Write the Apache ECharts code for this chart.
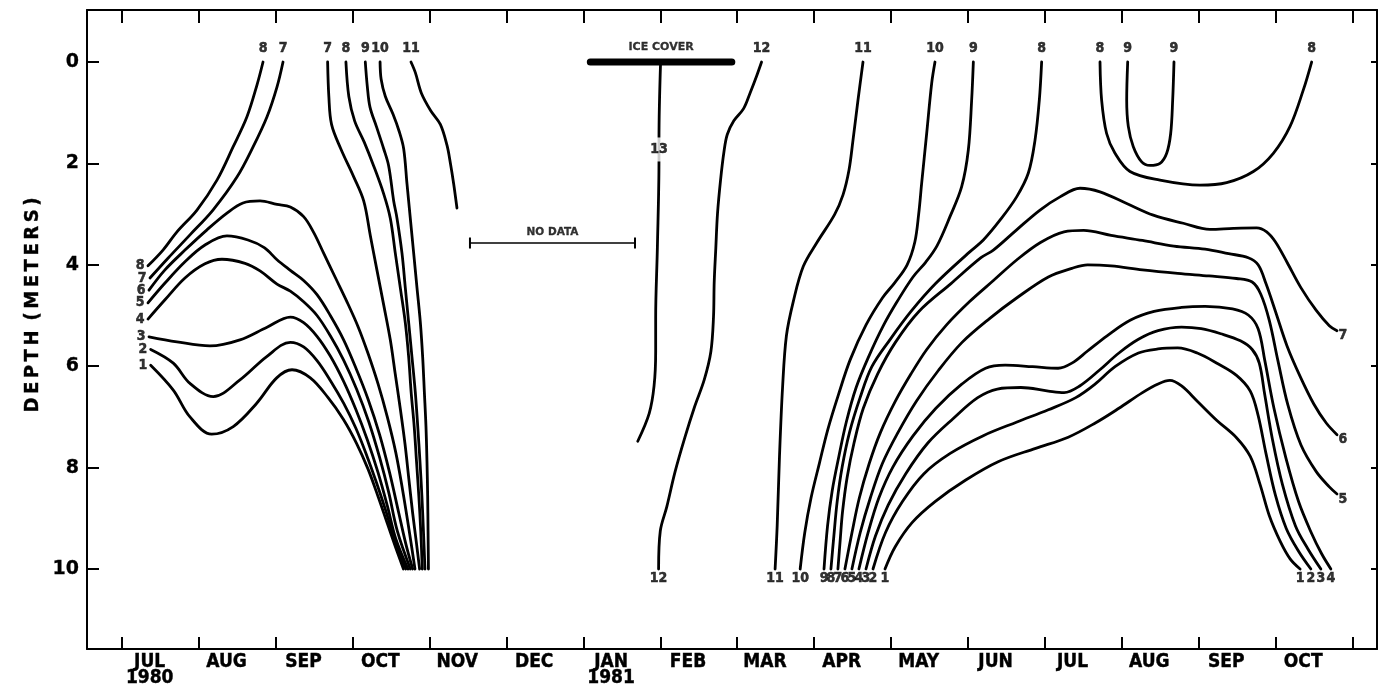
<!DOCTYPE html>
<html>
<head>
<meta charset="utf-8">
<script src="https://cdn.jsdelivr.net/npm/echarts@6/dist/echarts.min.js"></script>
<style>
  html, body { margin: 0; padding: 0; background: #fff; }
  #chart { width: 1380px; height: 688px; }
</style>
</head>
<body>
<div id="chart"></div>
<script>
// Time is counted in months from 1 July 1980 (0 = Jul 1, 1980); depth in metres.
const monthNames = ['JUL','AUG','SEP','OCT','NOV','DEC','JAN','FEB','MAR','APR','MAY','JUN','JUL','AUG','SEP','OCT'];
const yearStarts = { 0: '1980', 6: '1981' };
const monthBoundaries = [0,1,2,3,4,5,6,7,8,9,10,11,12,13,14,15,16];
const depthTicks = [0,2,4,6,8,10];

// ---- Isotherms, summer 1980 ----
const summer80_8 = [[0.338,4.02],[0.533,3.71],[0.715,3.35],[0.975,2.92],[1.235,2.33],[1.443,1.68],[1.625,1.08],[1.756,0.45],[1.834,0]];
const summer80_7 = [[0.364,4.26],[0.598,3.87],[0.884,3.41],[1.183,2.92],[1.495,2.27],[1.703,1.68],[1.886,1.08],[2.016,0.49],[2.094,0]];
const summer80_6 = [[0.351,4.50],[0.559,4.10],[0.819,3.71],[1.105,3.31],[1.365,2.98],[1.573,2.78],[1.795,2.74],[2.016,2.81],[2.189,2.86],[2.362,3.05],[2.492,3.36],[2.622,3.77],[2.774,4.25],[2.926,4.73],[3.07,5.22],[3.20,5.75],[3.33,6.35],[3.45,7.00],[3.56,7.70],[3.65,8.45],[3.73,9.20],[3.81,10.0]];
const summer80_5 = [[0.338,4.75],[0.559,4.36],[0.819,3.94],[1.079,3.61],[1.365,3.43],[1.638,3.51],[1.85,3.66],[2.016,3.90],[2.189,4.11],[2.362,4.31],[2.536,4.59],[2.709,5.00],[2.882,5.48],[3.04,6.03],[3.20,6.65],[3.35,7.35],[3.48,8.10],[3.60,8.90],[3.69,9.50],[3.78,10.0]];
const summer80_4 = [[0.338,5.07],[0.559,4.69],[0.819,4.26],[1.079,3.98],[1.300,3.89],[1.600,3.97],[1.795,4.12],[2.016,4.38],[2.189,4.52],[2.362,4.73],[2.536,5.00],[2.709,5.40],[2.882,5.88],[3.05,6.45],[3.21,7.10],[3.35,7.80],[3.47,8.50],[3.58,9.25],[3.75,10.0]];
const summer80_3 = [[0.351,5.42],[0.715,5.52],[1.144,5.60],[1.534,5.48],[1.886,5.23],[2.189,5.03],[2.362,5.14],[2.536,5.41],[2.709,5.80],[2.882,6.30],[3.04,6.85],[3.19,7.45],[3.33,8.10],[3.45,8.75],[3.56,9.40],[3.72,10.0]];
const summer80_2 = [[0.373,5.67],[0.667,5.94],[0.884,6.34],[1.187,6.60],[1.534,6.27],[1.882,5.81],[2.189,5.53],[2.362,5.62],[2.536,5.89],[2.709,6.28],[2.882,6.73],[3.04,7.22],[3.18,7.75],[3.31,8.30],[3.43,8.85],[3.54,9.40],[3.69,10.0]];
const summer80_1 = [[0.373,5.98],[0.667,6.47],[0.884,7.00],[1.166,7.34],[1.447,7.19],[1.752,6.73],[2.012,6.23],[2.211,6.07],[2.449,6.23],[2.68,6.62],[2.88,7.05],[3.05,7.52],[3.20,8.03],[3.33,8.57],[3.45,9.10],[3.56,9.58],[3.66,10.0]];

// ---- Autumn 1980 cooling ----
const fall80_7 = [[2.674,0],[2.69,0.68],[2.725,1.23],[2.845,1.71],[3.012,2.26],[3.143,2.74],[3.229,3.42],[3.316,4.11],[3.403,4.79],[3.489,5.48],[3.554,6.16],[3.62,6.85],[3.68,7.53],[3.73,8.22],[3.78,8.90],[3.83,9.50],[3.87,10.0]];
const fall80_8 = [[2.912,0],[2.95,0.68],[3.025,1.16],[3.15,1.58],[3.273,2.05],[3.403,2.60],[3.489,3.08],[3.554,3.77],[3.619,4.45],[3.684,5.14],[3.728,5.82],[3.760,6.51],[3.800,7.19],[3.830,7.88],[3.860,8.56],[3.885,9.25],[3.905,10.0]];
const fall80_9 = [[3.164,0],[3.19,0.48],[3.225,0.89],[3.31,1.28],[3.403,1.71],[3.468,2.05],[3.533,2.74],[3.576,3.08],[3.641,3.77],[3.684,4.45],[3.728,5.14],[3.771,5.82],[3.814,6.51],[3.846,7.19],[3.875,7.88],[3.900,8.56],[3.920,9.25],[3.940,10.0]];
const fall80_10 = [[3.356,0],[3.37,0.34],[3.425,0.68],[3.525,1.03],[3.605,1.37],[3.663,1.71],[3.706,2.40],[3.749,3.08],[3.793,3.77],[3.836,4.45],[3.880,5.14],[3.910,5.82],[3.932,6.51],[3.953,7.19],[3.966,7.88],[3.975,8.56],[3.980,9.25],[3.985,10.0]];
const fall80_11 = [[3.758,0],[3.815,0.21],[3.895,0.62],[4.015,0.96],[4.140,1.23],[4.226,1.64],[4.270,1.99],[4.313,2.40],[4.356,2.88]];

// ---- Winter 1980-81 ----
const winter_13 = [[7.004,0],[6.983,1.52],[6.983,1.93],[6.962,3.67],[6.940,5.03],[6.940,5.71],[6.919,6.39],[6.856,6.93],[6.707,7.48]];
const winter_12 = [[8.317,0],[8.254,0.27],[8.168,0.61],[8.083,0.92],[7.956,1.16],[7.871,1.43],[7.828,1.77],[7.785,2.31],[7.744,2.99],[7.722,3.67],[7.701,4.35],[7.692,5.03],[7.658,5.71],[7.573,6.26],[7.446,6.80],[7.319,7.41],[7.191,8.09],[7.085,8.77],[7.000,9.25],[6.978,10.0]];
const iceCover = [6.09, 7.93];
const noDataSpan = [4.525, 6.671];
const noDataDepth = 3.57;

// ---- Spring / summer 1981 ----
const spring81_11 = [[9.636,0],[9.571,0.75],[9.506,1.54],[9.454,2.13],[9.376,2.62],[9.266,3.01],[9.037,3.56],[8.86,4.03],[8.73,4.72],[8.64,5.40],[8.59,6.42],[8.55,7.78],[8.52,9.15],[8.493,10.0]];
const spring81_10 = [[10.572,0],[10.529,0.42],[10.464,1.41],[10.399,2.39],[10.36,3.0],[10.31,3.55],[10.21,4.0],[10.05,4.35],[9.89,4.65],[9.674,5.19],[9.470,5.87],[9.317,6.56],[9.18,7.24],[9.068,7.92],[8.96,8.60],[8.879,9.28],[8.819,10.0]];
const spring81_9 = [[11.071,0],[11.049,0.75],[11.006,1.73],[10.919,2.46],[10.767,3.05],[10.60,3.62],[10.45,3.95],[10.286,4.24],[10.082,4.72],[9.904,5.19],[9.710,5.81],[9.547,6.42],[9.419,7.10],[9.322,7.78],[9.235,8.46],[9.175,9.15],[9.129,10.0]];
const spring81_8 = [[11.959,0],[11.929,0.75],[11.873,1.54],[11.786,2.19],[11.634,2.66],[11.417,3.12],[11.201,3.51],[11.02,3.75],[10.58,4.37],[10.26,4.92],[9.99,5.47],[9.751,6.01],[9.598,6.62],[9.46,7.31],[9.365,7.99],[9.30,8.67],[9.257,9.35],[9.219,10.0]];
const season81_7 = [[9.310,10.0],[9.34,9.42],[9.37,8.87],[9.43,8.19],[9.52,7.51],[9.64,6.83],[9.827,6.15],[10.057,5.53],[10.363,4.92],[10.78,4.37],[11.17,3.86],[11.331,3.71],[11.634,3.31],[11.938,2.92],[12.198,2.66],[12.458,2.49],[12.718,2.56],[13.065,2.79],[13.411,3.02],[13.801,3.18],[14.148,3.30],[14.452,3.28],[14.755,3.27],[14.885,3.35],[15.00,3.55],[15.15,3.95],[15.33,4.45],[15.53,4.90],[15.70,5.20],[15.80,5.30]];
const season81_6 = [[9.401,10.0],[9.493,9.28],[9.588,8.60],[9.717,7.92],[9.862,7.31],[10.057,6.69],[10.261,6.15],[10.465,5.67],[10.720,5.19],[11.026,4.72],[11.332,4.31],[11.638,3.90],[11.944,3.56],[12.250,3.35],[12.505,3.32],[12.862,3.42],[13.270,3.52],[13.677,3.63],[14.085,3.69],[14.391,3.78],[14.646,3.86],[14.774,4.00],[14.876,4.37],[15.00,4.92],[15.15,5.60],[15.32,6.20],[15.50,6.75],[15.66,7.12],[15.80,7.35]];
const season81_5 = [[9.492,10.0],[9.60,9.28],[9.731,8.60],[9.888,7.92],[10.09,7.31],[10.33,6.69],[10.618,6.08],[10.924,5.53],[11.281,5.06],[11.638,4.65],[12.046,4.24],[12.352,4.07],[12.556,4.00],[12.862,4.02],[13.270,4.10],[13.728,4.17],[14.136,4.22],[14.493,4.27],[14.697,4.34],[14.809,4.58],[14.92,5.10],[15.03,5.88],[15.16,6.76],[15.33,7.55],[15.53,8.08],[15.70,8.38],[15.80,8.52]];
const season81_4 = [[9.583,10.0],[9.703,9.28],[9.842,8.60],[10.024,7.99],[10.289,7.37],[10.584,6.83],[10.924,6.35],[11.230,6.04],[11.485,5.98],[11.842,6.01],[12.173,6.04],[12.352,5.94],[12.556,5.70],[12.810,5.40],[13.116,5.09],[13.422,4.92],[13.779,4.84],[14.085,4.82],[14.442,4.87],[14.646,4.99],[14.774,5.26],[14.86,5.88],[14.98,6.83],[15.13,7.78],[15.30,8.67],[15.47,9.30],[15.60,9.70],[15.72,10.0]];
const season81_3 = [[9.675,10.0],[9.798,9.35],[9.963,8.74],[10.192,8.12],[10.482,7.51],[10.81,7.03],[11.128,6.62],[11.383,6.45],[11.689,6.42],[12.046,6.49],[12.250,6.52],[12.454,6.39],[12.709,6.08],[12.964,5.74],[13.218,5.47],[13.473,5.30],[13.779,5.23],[14.034,5.26],[14.289,5.36],[14.544,5.50],[14.697,5.67],[14.789,5.94],[14.86,6.56],[14.96,7.44],[15.09,8.33],[15.26,9.15],[15.42,9.60],[15.59,10.0]];
const season81_2 = [[9.766,10.0],[9.929,9.28],[10.149,8.67],[10.429,8.12],[10.77,7.72],[11.20,7.37],[11.638,7.10],[12.046,6.86],[12.403,6.62],[12.657,6.35],[12.913,6.01],[13.218,5.74],[13.473,5.66],[13.728,5.64],[13.983,5.74],[14.238,5.94],[14.493,6.18],[14.672,6.49],[14.774,6.97],[14.876,7.72],[15.00,8.55],[15.14,9.20],[15.30,9.65],[15.46,10.0]];
const season81_1 = [[9.922,10.0],[10.055,9.56],[10.277,9.08],[10.573,8.67],[10.967,8.25],[11.40,7.88],[11.881,7.62],[12.305,7.40],[12.657,7.12],[12.964,6.83],[13.270,6.52],[13.473,6.35],[13.626,6.28],[13.779,6.39],[13.983,6.69],[14.238,7.07],[14.493,7.41],[14.672,7.78],[14.799,8.33],[14.92,8.95],[15.06,9.45],[15.19,9.80],[15.32,10.0]];
const summer81_8 = [[12.718,0],[12.739,0.75],[12.804,1.41],[12.913,1.80],[13.108,2.16],[13.498,2.33],[14.018,2.43],[14.365,2.38],[14.712,2.16],[14.972,1.80],[15.189,1.27],[15.362,0.55],[15.470,0]];
const summer81_9 = [[13.078,0],[13.065,0.75],[13.086,1.27],[13.151,1.67],[13.260,1.97],[13.368,2.04],[13.498,2.00],[13.585,1.80],[13.637,1.41],[13.663,0.75],[13.680,0]];

// Which ends of each isotherm carry its temperature tag, and on which side.
const contours = [
  { level: 8,  pts: summer80_8,  tags: [['start','left'], ['end','top']] },
  { level: 7,  pts: summer80_7,  tags: [['start','left'], ['end','top']] },
  { level: 6,  pts: summer80_6,  tags: [['start','left']] },
  { level: 5,  pts: summer80_5,  tags: [['start','left']] },
  { level: 4,  pts: summer80_4,  tags: [['start','left']] },
  { level: 3,  pts: summer80_3,  tags: [['start','left']] },
  { level: 2,  pts: summer80_2,  tags: [['start','left']] },
  { level: 1,  pts: summer80_1,  tags: [['start','left']] },
  { level: 7,  pts: fall80_7,    tags: [['start','top']] },
  { level: 8,  pts: fall80_8,    tags: [['start','top']] },
  { level: 9,  pts: fall80_9,    tags: [['start','top']] },
  { level: 10, pts: fall80_10,   tags: [['start','top']] },
  { level: 11, pts: fall80_11,   tags: [['start','top']] },
  { level: 13, pts: winter_13,   tags: [] },
  { level: 12, pts: winter_12,   tags: [['start','top'], ['end','bottom']] },
  { level: 11, pts: spring81_11, tags: [['start','top'], ['end','bottom']] },
  { level: 10, pts: spring81_10, tags: [['start','top'], ['end','bottom']] },
  { level: 9,  pts: spring81_9,  tags: [['start','top'], ['end','bottom']] },
  { level: 8,  pts: spring81_8,  tags: [['start','top'], ['end','bottom']] },
  { level: 7,  pts: season81_7,  tags: [['start','bottom'], ['end','right']] },
  { level: 6,  pts: season81_6,  tags: [['start','bottom'], ['end','right']] },
  { level: 5,  pts: season81_5,  tags: [['start','bottom'], ['end','right']] },
  { level: 4,  pts: season81_4,  tags: [['start','bottom'], ['end','bottom']] },
  { level: 3,  pts: season81_3,  tags: [['start','bottom'], ['end','bottom']] },
  { level: 2,  pts: season81_2,  tags: [['start','bottom'], ['end','bottom']] },
  { level: 1,  pts: season81_1,  tags: [['start','bottom'], ['end','bottom']] },
  { level: 8,  pts: summer81_8,  tags: [['start','top'], ['end','top']] },
  { level: 9,  pts: summer81_9,  tags: [['start','top'], ['end','top']] }
];

const INK = '#000';
const NARROW = "'DejaVu Sans Condensed','Liberation Sans Narrow','DejaVu Sans',sans-serif";
const WIDE = "'DejaVu Sans','Liberation Sans',sans-serif";
const tagDistance = { top: 6, bottom: 2, left: 3, right: 1 };
// month names sit a little left of the middle of each month
const monthLabelAt = monthBoundaries.slice(0, monthNames.length).map(b => b + 0.36);

const isothermSeries = contours.map(c => ({
  type: 'line',
  data: c.pts,
  symbol: 'none',
  showSymbol: false,
  smooth: 0.35,
  silent: true,
  z: 3,
  lineStyle: { color: INK, width: 2.8, cap: 'round', join: 'round' }
}));

// Temperature tags at the ends of the isotherms.
const tagItems = [];
contours.forEach(c => {
  c.tags.forEach(([which, side]) => {
    const p = which === 'start' ? c.pts[0] : c.pts[c.pts.length - 1];
    tagItems.push({
      value: [p[0], p[1], String(c.level)],
      label: {
        position: side,
        distance: tagDistance[side],
        offset: side === 'right' ? [0, 5] : [0, 0]
      }
    });
  });
});
// the 13 degree tag interrupts its isotherm below the ice
const t13 = [(winter_13[1][0] + winter_13[2][0]) / 2, (winter_13[1][1] + winter_13[2][1]) / 2];
tagItems.push({
  value: [t13[0], t13[1], '13'],
  label: { position: 'inside', backgroundColor: '#fff', padding: [5, 1] }
});
// annotations
tagItems.push({
  value: [(iceCover[0] + iceCover[1]) / 2, 0, 'ICE COVER'],
  label: { position: 'top', distance: 9, fontSize: 11, fontFamily: WIDE, textBorderWidth: 0.3 }
});
tagItems.push({
  value: [(noDataSpan[0] + noDataSpan[1]) / 2, noDataDepth, 'NO DATA'],
  label: { position: 'top', distance: 5, fontSize: 10.5, fontFamily: WIDE, textBorderWidth: 0.3 }
});

const option = {
  animation: false,
  backgroundColor: '#fff',
  grid: { left: 87, right: 3, top: 10, bottom: 39, containLabel: false },
  xAxis: [
    {
      type: 'value', position: 'bottom', min: -0.455, max: 16.32,
      axisLine: { show: true, onZero: false, lineStyle: { color: INK, width: 2 } },
      axisTick: { show: true, inside: true, length: 12, customValues: monthBoundaries, lineStyle: { color: INK, width: 2 } },
      axisLabel: {
        show: true, customValues: monthLabelAt, margin: 5,
        color: INK, fontSize: 19, fontWeight: 'bold', fontFamily: NARROW, lineHeight: 16,
        textBorderColor: INK, textBorderWidth: 0.4,
        formatter: v => {
          const i = Math.round(v - 0.36);
          return monthNames[i] + (yearStarts[i] ? '\n' + yearStarts[i] : '');
        }
      },
      splitLine: { show: false }
    },
    {
      type: 'value', position: 'top', min: -0.455, max: 16.32,
      axisLine: { show: true, onZero: false, lineStyle: { color: INK, width: 2 } },
      axisTick: { show: true, inside: true, length: 13, customValues: monthBoundaries, lineStyle: { color: INK, width: 2 } },
      axisLabel: { show: false },
      splitLine: { show: false }
    }
  ],
  yAxis: [
    {
      type: 'value', position: 'left', inverse: true, min: -1.026, max: 11.578,
      axisLine: { show: true, onZero: false, lineStyle: { color: INK, width: 2 } },
      axisTick: { show: true, inside: true, length: 12, customValues: depthTicks, lineStyle: { color: INK, width: 2 } },
      axisLabel: {
        show: true, customValues: depthTicks, margin: 8, color: INK, fontSize: 19, fontWeight: 'bold', fontFamily: WIDE,
        textBorderColor: INK, textBorderWidth: 0.3
      },
      splitLine: { show: false }
    },
    {
      type: 'value', position: 'right', inverse: true, min: -1.026, max: 11.578,
      axisLine: { show: true, onZero: false, lineStyle: { color: INK, width: 2 } },
      axisTick: { show: true, inside: true, length: 6, customValues: depthTicks, lineStyle: { color: INK, width: 2 } },
      axisLabel: { show: false },
      splitLine: { show: false }
    }
  ],
  graphic: [
    {
      type: 'text', x: 33, y: 305, rotation: Math.PI / 2,
      style: {
        text: 'D\u2009E\u2009P\u2009T\u2009H\u2009 (\u2009M\u2009E\u2009T\u2009E\u2009R\u2009S\u2009)',
        fill: INK, fontSize: 20, fontWeight: 'bold', fontFamily: NARROW,
        stroke: INK, lineWidth: 0.4,
        textAlign: 'center', textVerticalAlign: 'middle'
      }
    }
  ],
  series: [
    ...isothermSeries,
    {
      type: 'line', name: 'ice',
      data: [[iceCover[0], 0], [iceCover[1], 0]],
      symbol: 'none', silent: true, z: 4,
      lineStyle: { color: INK, width: 7, cap: 'round' }
    },
    {
      type: 'line', name: 'gap',
      data: [[noDataSpan[0], noDataDepth], [noDataSpan[1], noDataDepth]],
      symbol: 'rect', symbolSize: [2, 11], showSymbol: true, silent: true, z: 4,
      itemStyle: { color: INK },
      lineStyle: { color: INK, width: 1.6 }
    },
    {
      type: 'scatter', name: 'tags',
      data: tagItems, symbolSize: 1, silent: true, z: 10,
      itemStyle: { color: 'rgba(0,0,0,0)' },
      label: {
        show: true, color: INK, fontSize: 14, fontWeight: 'bold', fontFamily: NARROW,
        textBorderColor: INK, textBorderWidth: 0.5,
        formatter: p => p.value[2]
      }
    }
  ]
};

const chart = echarts.init(document.getElementById('chart'));
chart.setOption(option);
</script>
</body>
</html>
